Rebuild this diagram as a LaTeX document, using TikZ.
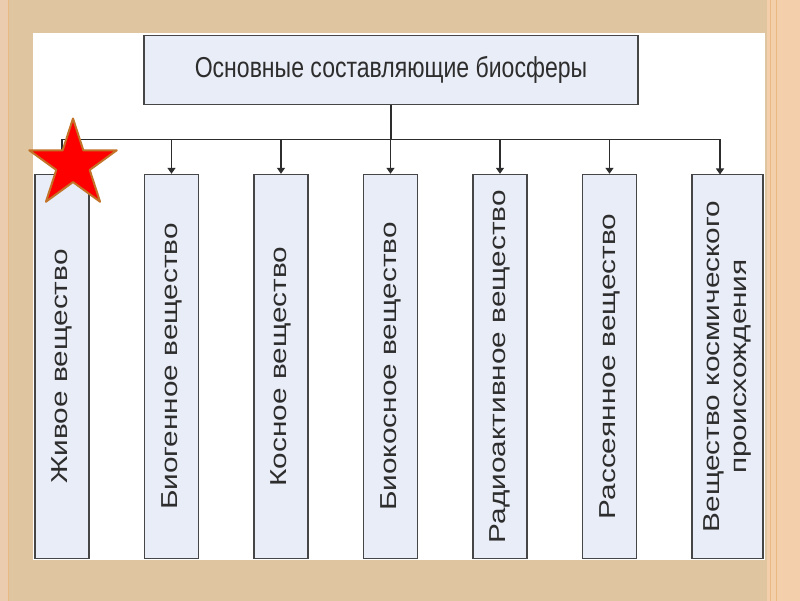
\documentclass[tikz,border=0pt]{standalone}
\usepackage{fontspec}
\setmainfont{Liberation Sans}
\usetikzlibrary{arrows.meta,shapes.geometric}
\definecolor{bg}{RGB}{223,198,160}
\definecolor{stripR}{RGB}{243,207,172}
\definecolor{stripRline}{RGB}{232,185,130}
\definecolor{stripL}{RGB}{236,204,174}
\definecolor{boxfill}{RGB}{233,237,247}
\definecolor{boxline}{RGB}{70,70,70}
\definecolor{txt}{RGB}{45,45,45}
\definecolor{starline}{RGB}{195,115,40}
\newcommand{\vtext}[1]{\rotatebox{90}{\scalebox{1.24}[0.96]{#1}}}
\begin{document}
\begin{tikzpicture}[x=1pt,y=-1pt,
  comp/.style={draw=boxline, line width=1.4pt, fill=boxfill, inner sep=0pt, text=txt,
    font=\fontsize{24}{28}\selectfont},
  vbox/.style={comp, minimum width=54pt, minimum height=384pt},
  conn/.style={draw=txt, line width=1.3pt},
  arr/.style={conn, -{Triangle[width=8pt,length=6pt]}},
  starshape/.style={star, star points=5, star point ratio=2.618, minimum size=92pt,
    inner sep=0pt, fill=red, draw=starline, line width=2pt, line join=round}
]
% background
\fill[bg] (0,0) rectangle (800,600);
\fill[stripL] (0,0) rectangle (8,600);
\draw[stripRline, line width=0.8pt] (8.5,0) -- (8.5,600);
\fill[stripR] (767,0) rectangle (800,600);
\draw[stripRline, line width=1pt] (770,0) -- (770,600);
\draw[stripRline, line width=0.8pt] (776,0) -- (776,600);
\fill[white] (33,33) rectangle (765,559);
\useasboundingbox (0,0) rectangle (800,600);

% top box
\node[comp, minimum width=494pt, minimum height=69pt] (top) at (391,69.5)
  {\scalebox{0.96}[1.2]{Основные составляющие биосферы}};

% component boxes
\node[vbox] (b1) at (62,366) {\vtext{Живое вещество}};
\node[vbox] (b2) at (171.5,366) {\vtext{Биогенное вещество}};
\node[vbox] (b3) at (281,366) {\vtext{Косное вещество}};
\node[vbox] (b4) at (390.5,366) {\vtext{Биокосное вещество}};
\node[vbox] (b5) at (500,366) {\vtext{Радиоактивное вещество}};
\node[vbox] (b6) at (609.5,366) {\vtext{Рассеянное вещество}};
\node[vbox, minimum width=71pt] (b7) at (727.5,366)
  {\vtext{\begin{tabular}{@{}c@{}}Вещество космического\\[0pt]происхождения\end{tabular}}};

% connectors
\coordinate (bus) at (391,139);
\coordinate (b7in) at (720,174);
\draw[conn] (top.south) -- (bus);
\draw[conn] (b1.north |- bus) -- (b7in |- bus);
\foreach \b in {b1,b2,b3,b4,b5,b6}
  \draw[arr] (\b.north |- bus) -- (\b.north);
\draw[arr] (b7in |- bus) -- (b7in);

% star
\node[starshape] (star) at (73,164) {};
\end{tikzpicture}
\end{document}
